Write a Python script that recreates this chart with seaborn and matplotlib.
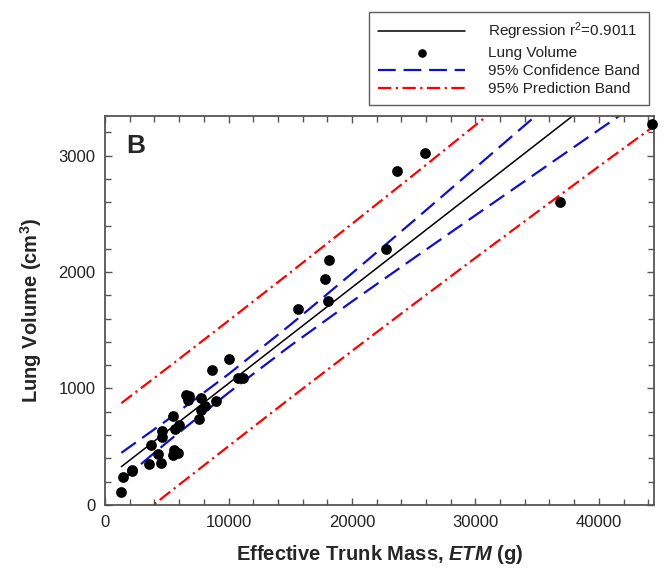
import matplotlib
matplotlib.use("Agg")
import matplotlib.pyplot as plt
import numpy as np
import pandas as pd
import seaborn as sns

sns.set_theme(style="ticks")
plt.rcParams['font.family'] = ['Liberation Sans', 'DejaVu Sans']
plt.rcParams['mathtext.fontset'] = 'custom'
plt.rcParams['mathtext.rm'] = 'Liberation Sans'
plt.rcParams['mathtext.bf'] = 'Liberation Sans:bold'
plt.rcParams['mathtext.bfit'] = 'Liberation Sans:bold:italic'
plt.rcParams['mathtext.default'] = 'regular'

etm = [1320, 1480, 2160, 2200, 3570, 3700, 4520, 4300, 4600, 4650,
       5510, 5600, 5920, 5510, 5680, 6000, 6540, 6760, 6680, 7760,
       7570, 7760, 8110, 8980, 8700, 10060, 10730, 11140, 15600, 18030,
       17810, 18170, 22760, 23630, 25930, 36820, 44340]
lung = [109, 243, 291, 300, 349, 514, 363, 437, 634, 585,
        428, 471, 443, 763, 649, 686, 943, 934, 900, 914,
        734, 814, 848, 894, 1157, 1251, 1086, 1091, 1680, 1751,
        1942, 2100, 2200, 2871, 3022, 2599, 3276]

# Fitted line and bands
fit_x = [1320, 5000, 10000, 15000, 20000, 25000, 30000, 35000, 40000, 44340]
reg_y = [328, 631, 1043, 1456, 1868, 2280, 2692, 3104, 3517, 3874]
conf_upper = [447, 726, 1123, 1546, 1989, 2441, 2896, 3353, 3812, 4210]
conf_lower = [209, 536, 963, 1366, 1747, 2119, 2488, 2855, 3222, 3538]
pred_upper = [874, 1172, 1582, 1996, 2414, 2836, 3262, 3692, 4126, 4504]
pred_lower = [-218, 90, 504, 916, 1322, 1724, 2122, 2516, 2908, 3244]

points = pd.DataFrame({'ETM': etm, 'Lung': lung})

fig = plt.figure(figsize=(6.65, 5.75), dpi=100)
ax = fig.add_axes([0.158, 0.122, 0.826, 0.676])

blue = '#1010c8'
red = '#ff0000'

sns.lineplot(x=fit_x, y=reg_y, color='black', lw=1.1, ax=ax,
             label='Regression r$^{2}$=0.9011')
sns.scatterplot(data=points, x='ETM', y='Lung', color='black', s=60,
                edgecolor='black', linewidth=0, ax=ax, label='Lung Volume',
                zorder=3, clip_on=False)
sns.lineplot(x=fit_x, y=conf_upper, color=blue, lw=1.6, linestyle=(0, (8, 3.5)),
             ax=ax, label='95% Confidence Band')
sns.lineplot(x=fit_x, y=conf_lower, color=blue, lw=1.6, linestyle=(0, (8, 3.5)), ax=ax)
sns.lineplot(x=fit_x, y=pred_upper, color=red, lw=1.6, linestyle=(0, (6, 2, 1, 2)),
             ax=ax, label='95% Prediction Band')
sns.lineplot(x=fit_x, y=pred_lower, color=red, lw=1.6, linestyle=(0, (6, 2, 1, 2)), ax=ax)

ax.set_xlim(0, 44500)
ax.set_ylim(0, 3340)
ax.set_xticks([0, 10000, 20000, 30000, 40000])
ax.set_yticks([0, 1000, 2000, 3000])
ax.xaxis.set_minor_locator(matplotlib.ticker.MultipleLocator(2000))
ax.yaxis.set_minor_locator(matplotlib.ticker.MultipleLocator(200))
ax.tick_params(which='both', direction='in', top=True, right=True,
               colors='#555555', labelcolor='#222222', labelsize=12, width=1, pad=7)
ax.tick_params(which='major', length=5)
ax.tick_params(which='minor', length=4)
for sp in ax.spines.values():
    sp.set_color('#555555')
    sp.set_linewidth(1.3)

ax.set_xlabel('Effective Trunk Mass, $\\mathbfit{ETM}$ (g)', fontsize=14.5,
              fontweight='bold', labelpad=10)
ax.set_ylabel('Lung Volume (cm$^{3}$)', fontsize=14.5, fontweight='bold', labelpad=10)
ax.text(0.055, 0.922, 'B', transform=ax.transAxes, fontsize=19, fontweight='bold',
        ha='center', va='center')

handles, labels = ax.get_legend_handles_labels()
ax.get_legend().remove()
leg = fig.legend(handles, labels, loc='upper right', bbox_to_anchor=(657 / 665, 1 - 4 / 575),
                 fontsize=11, frameon=True, fancybox=False, edgecolor='#333333',
                 handlelength=5.7, handletextpad=1.5, labelspacing=0.25, borderpad=0.6,
                 markerscale=0.8)
leg.get_frame().set_linewidth(1.0)
for t in leg.get_texts():
    t.set_color('#222222')

fig.savefig('out.png', dpi=100)
